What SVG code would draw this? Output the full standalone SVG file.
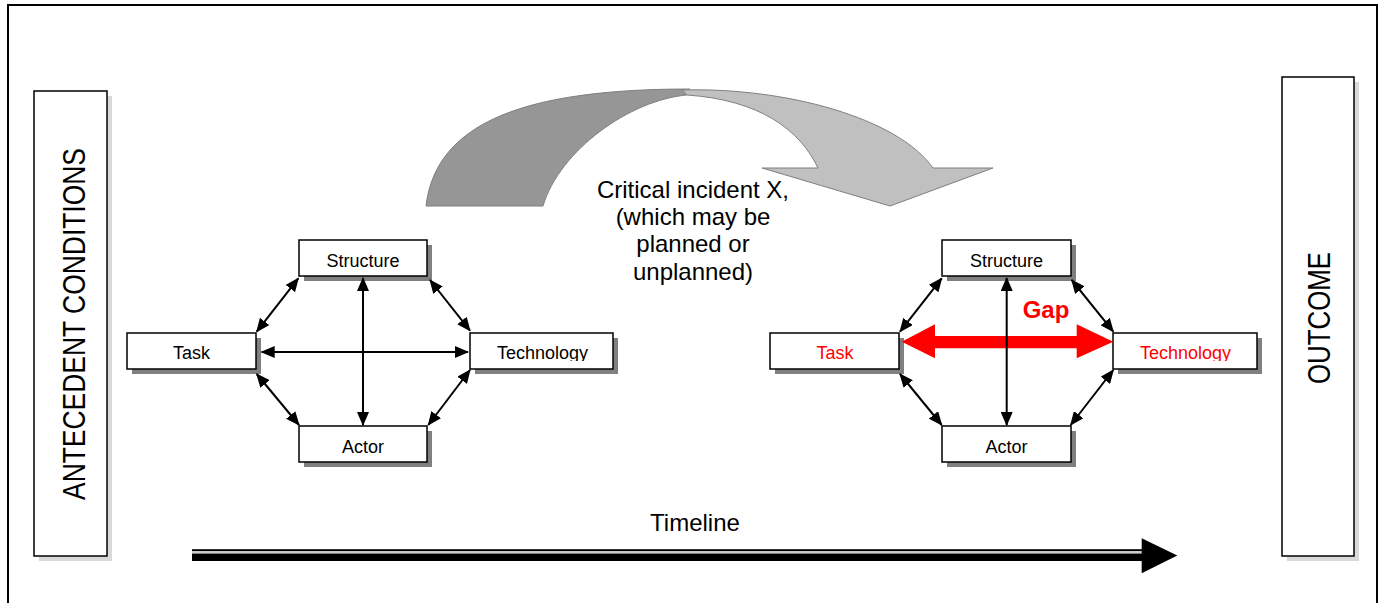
<svg xmlns="http://www.w3.org/2000/svg" width="1382" height="603" viewBox="0 0 1382 603">
<style>
.lbl{font-family:"Liberation Sans",Arial,sans-serif;font-size:18px;text-anchor:middle;fill:#000}
.red{fill:#ff0000}
.box{fill:#fff;stroke:#000;stroke-width:1.5}
.shd{fill:#808080}
.lshd{fill:#d9d9d9}
.conn{stroke:#000;stroke-width:2;fill:none;marker-start:url(#ah);marker-end:url(#ah)}
.big{font-family:"Liberation Sans",Arial,sans-serif;font-size:24px;text-anchor:middle;fill:#000}
.side{font-family:"Liberation Sans",Arial,sans-serif;font-size:31px;text-anchor:middle;fill:#000}
</style>
<defs>
<marker id="ah" viewBox="0 0 14 12" refX="13" refY="6" markerWidth="14" markerHeight="12" markerUnits="userSpaceOnUse" orient="auto-start-reverse">
<path d="M0,0 L14,6 L0,12 z" fill="#000"/>
</marker>
<clipPath id="clipL"><rect x="470" y="333" width="143" height="28"/></clipPath>
<clipPath id="clipR"><rect x="1113" y="333" width="144" height="28"/></clipPath>
</defs>
<rect width="1382" height="603" fill="#fff"/>
<rect x="8" y="5" width="1369" height="640" fill="none" stroke="#000" stroke-width="2"/>

<g id="antecedent">
<rect class="lshd" x="39" y="96" width="73" height="465"/>
<rect class="box" x="34" y="91" width="73" height="465"/>
<text class="side" transform="translate(85,324) rotate(-90)" textLength="352" lengthAdjust="spacingAndGlyphs">ANTECEDENT CONDITIONS</text>
</g>

<g id="outcome">
<rect class="lshd" x="1287" y="82" width="72" height="479"/>
<rect class="box" x="1282" y="77" width="72" height="479"/>
<text class="side" transform="translate(1330,318) rotate(-90)" textLength="132" lengthAdjust="spacingAndGlyphs">OUTCOME</text>
</g>

<g id="critical-incident">
<path d="M426,206 C436,120 530,89 690,89 L687,95 C630,100 560,150 543,206 Z" fill="#969696" stroke="#7f7f7f" stroke-width="1"/>
<path d="M682,90 C785,87 898,118 933,168 L993,168 L890,206 L762,168 L818,168 C800,130 760,100 687,95 Z" fill="#c0c0c0" stroke="#7f7f7f" stroke-width="1"/>
<text class="big" x="693" y="198">Critical incident X,</text>
<text class="big" x="693" y="225">(which may be</text>
<text class="big" x="693" y="252">planned or</text>
<text class="big" x="693" y="280">unplanned)</text>
</g>

<g id="timeline">
<rect x="192" y="549.2" width="950" height="2" fill="#000"/>
<rect x="192" y="551.4" width="950" height="1.5" fill="#c8c8c8"/>
<rect x="192" y="553.5" width="950" height="7.5" fill="#000"/>
<polygon points="1141.7,538.3 1177.3,555.5 1141.7,573.3" fill="#000"/>
<text class="big" x="695" y="531">Timeline</text>
</g>

<g id="left-structure">
<rect class="shd" x="304" y="245" width="128" height="36"/>
<rect class="box" x="299" y="240" width="128" height="36"/>
<text class="lbl" x="363" y="266.5">Structure</text>
</g>
<g id="left-task">
<rect class="shd" x="132" y="338" width="129" height="36"/>
<rect class="box" x="127" y="333" width="129" height="36"/>
<text class="lbl" x="191.5" y="359">Task</text>
</g>
<g id="left-technology">
<rect class="shd" x="475" y="338" width="143" height="36"/>
<rect class="box" x="470" y="333" width="143" height="36"/>
<text class="lbl" x="542.5" y="359" clip-path="url(#clipL)">Technology</text>
</g>
<g id="left-actor">
<rect class="shd" x="304" y="431" width="128" height="36"/>
<rect class="box" x="299" y="426" width="128" height="36"/>
<text class="lbl" x="363" y="452.5">Actor</text>
</g>

<g id="right-structure">
<rect class="shd" x="947" y="245" width="129" height="36"/>
<rect class="box" x="942" y="240" width="129" height="36"/>
<text class="lbl" x="1006.5" y="266.5">Structure</text>
</g>
<g id="right-task">
<rect class="shd" x="775" y="338" width="129" height="36"/>
<rect class="box" x="770" y="333" width="129" height="36"/>
<text class="lbl red" x="835" y="359">Task</text>
</g>
<g id="right-technology">
<rect class="shd" x="1118" y="338" width="144" height="36"/>
<rect class="box" x="1113" y="333" width="144" height="36"/>
<text class="lbl red" x="1185.5" y="359" clip-path="url(#clipR)">Technology</text>
</g>
<g id="right-actor">
<rect class="shd" x="947" y="431" width="129" height="36"/>
<rect class="box" x="942" y="426" width="129" height="36"/>
<text class="lbl" x="1006.5" y="452.5">Actor</text>
</g>

<g id="connectors">
<line class="conn" x1="298.3" y1="278.3" x2="256.7" y2="331.7"/>
<line class="conn" x1="430" y1="280" x2="470" y2="330.7"/>
<line class="conn" x1="256.7" y1="374" x2="299" y2="425"/>
<line class="conn" x1="470" y1="370" x2="428.3" y2="425"/>
<line class="conn" x1="261.7" y1="352" x2="468" y2="352"/>
<line class="conn" x1="363" y1="278" x2="363" y2="425"/>

<line class="conn" x1="941.7" y1="278.3" x2="900" y2="331.7"/>
<line class="conn" x1="1071.7" y1="280" x2="1113.3" y2="331.7"/>
<line class="conn" x1="900" y1="374" x2="941.7" y2="425"/>
<line class="conn" x1="1113.3" y1="370" x2="1070.7" y2="425"/>
<polygon id="gap-arrow" points="901.7,341.7 935,324.3 935,336 1076.7,336 1076.7,324.3 1113.3,341.7 1076.7,358.3 1076.7,348.3 935,348.3 935,358.3" fill="#ff0000"/>
<line class="conn" x1="1006.7" y1="278" x2="1006.7" y2="425"/>
<text x="1046" y="318" font-family="'Liberation Sans',Arial,sans-serif" font-size="24" font-weight="bold" fill="#ff0000" text-anchor="middle">Gap</text>
</g>
</svg>
